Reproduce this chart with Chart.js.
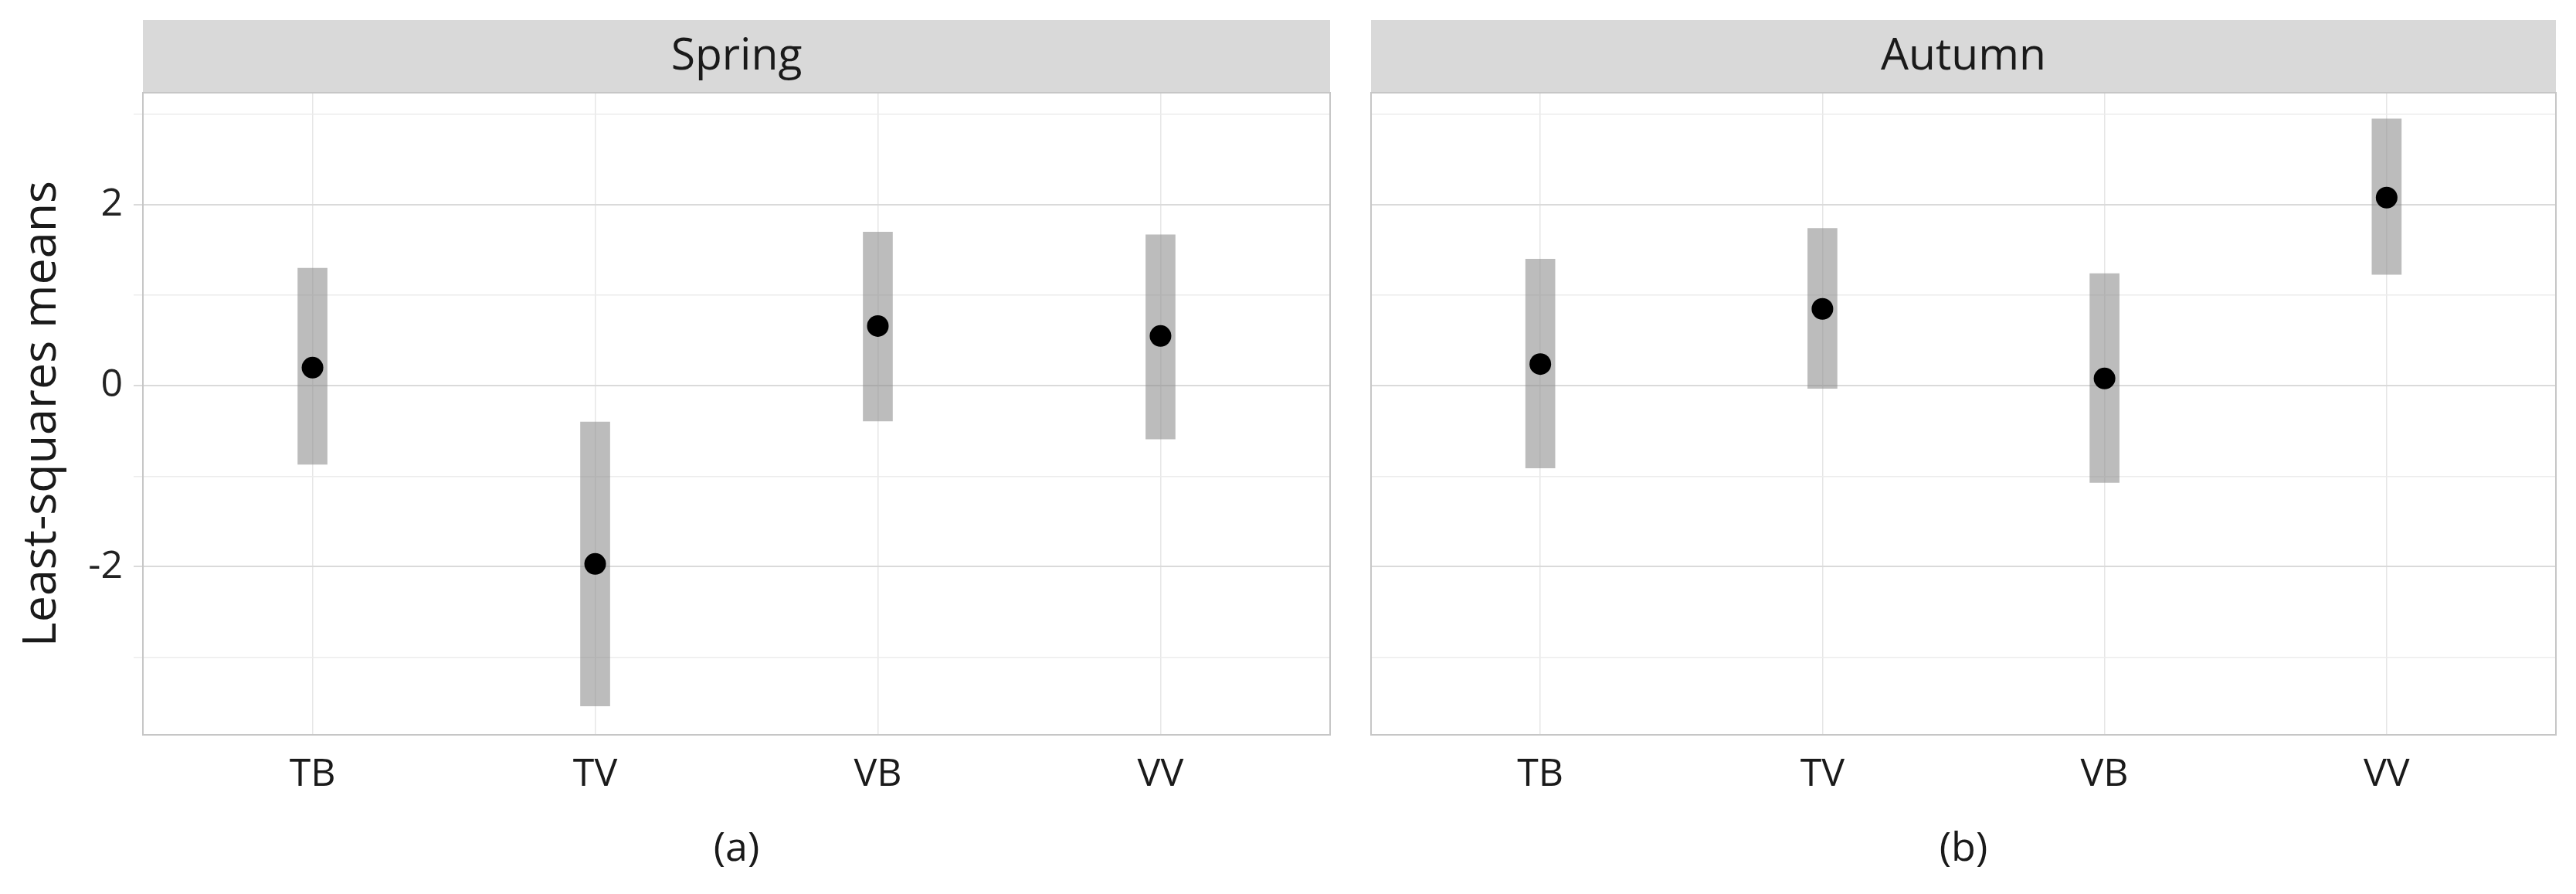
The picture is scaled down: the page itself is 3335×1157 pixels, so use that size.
<!DOCTYPE html>
<html>
<head>
<meta charset="utf-8">
<script src="https://cdn.jsdelivr.net/npm/chart.js@4.4.1/dist/chart.umd.min.js"></script>
<style>
  html, body { margin: 0; padding: 0; background: #fff; }
  body { width: 3335px; height: 1157px; position: relative; overflow: hidden; }
  .panel { position: absolute; top: 0; height: 1157px; }
</style>
</head>
<body>
<div class="panel" style="left:0;width:1748px;"><canvas id="springChart"></canvas></div>
<div class="panel" style="left:1748px;width:1587px;"><canvas id="autumnChart"></canvas></div>
<script>
// === Data ===
const categories = ["TB", "TV", "VB", "VV"];

const springMean = [0.20, -1.97, 0.66, 0.55];
const springLower = [-0.87, -3.54, -0.39, -0.59];
const springUpper = [1.30, -0.40, 1.70, 1.67];

const autumnMean = [0.24, 0.85, 0.08, 2.08];
const autumnLower = [-0.91, -0.03, -1.07, 1.23];
const autumnUpper = [1.40, 1.74, 1.24, 2.95];

const yMin = -3.86;
const yMax = 3.24;

const FONT = "'Open Sans', sans-serif";

// grey strip above the panel + light frame round it
const panelFrame = {
  id: "panelFrame",
  beforeDraw(chart, args, opts) {
    const { ctx, chartArea: a } = chart;
    ctx.save();
    ctx.fillStyle = "#d9d9d9";
    ctx.fillRect(a.left, a.top - opts.strip, a.right - a.left, opts.strip);
    ctx.restore();
  },
  afterDraw(chart) {
    const { ctx, chartArea: a } = chart;
    ctx.save();
    ctx.strokeStyle = "#c6c6c6";
    ctx.lineWidth = 2;
    ctx.strokeRect(a.left, a.top, a.right - a.left, a.bottom - a.top);
    ctx.restore();
  },
};

function makeChart(id, season, caption, mean, lower, upper, isLeft) {
  const yWidth = isLeft ? 185 : 27;

  new Chart(document.getElementById(id), {
    type: "bar",
    data: {
      datasets: [
        {
          type: "scatter",
          data: mean.map((m, i) => ({ x: i + 1, y: m })),
          pointRadius: 14,
          pointBackgroundColor: "#000",
          pointBorderWidth: 0,
          showLine: false,
          order: 0,
        },
        {
          type: "bar",
          data: categories.map((c, i) => ({ x: i + 1, y: [lower[i], upper[i]] })),
          backgroundColor: "rgba(140, 140, 140, 0.58)",
          borderWidth: 0,
          barThickness: 38,
          order: 1,
        },
      ],
    },
    options: {
      responsive: true,
      maintainAspectRatio: false,
      animation: false,
      layout: { padding: { top: 26, right: 26, left: 0, bottom: 0 } },
      plugins: {
        legend: { display: false },
        tooltip: { enabled: false },
        title: {
          display: true,
          text: season,
          fullSize: false,
          color: "#1a1a1a",
          font: { family: FONT, size: 57, weight: "normal", lineHeight: 1.2 },
          padding: { top: 14, bottom: 11.6 },
        },
        panelFrame: { strip: 94 },
      },
      scales: {
        x: {
          type: "linear",
          min: 0.4,
          max: 4.6,
          offset: false,
          afterFit: (s) => { s.height = 206; },
          ticks: {
            stepSize: 1,
            includeBounds: false,
            autoSkip: false,
            maxRotation: 0,
            padding: 22,
            color: "#1a1a1a",
            font: { family: FONT, size: 50 },
            callback: (v) => categories[v - 1] || "",
          },
          grid: { offset: false, color: "#e6e6e6", lineWidth: 1.5, drawTicks: false },
          border: { display: false },
          title: {
            display: true,
            text: caption,
            color: "#1a1a1a",
            font: { family: FONT, size: 52 },
            padding: { top: 0, bottom: 27 },
          },
        },
        y: {
          min: yMin,
          max: yMax,
          afterFit: (s) => { s.width = yWidth; },
          ticks: {
            display: isLeft,
            stepSize: 1,
            includeBounds: false,
            autoSkip: false,
            padding: 14,
            color: "#222",
            font: { family: FONT, size: 50 },
            callback: (v) => (Math.abs(v) % 2 === 0 ? String(v) : ""),
          },
          grid: {
            drawTicks: isLeft,
            tickLength: 12,
            color: (c) => (c.tick && Math.abs(c.tick.value) % 2 === 0 ? "#dadada" : "#ececec"),
            lineWidth: (c) => (c.tick && Math.abs(c.tick.value) % 2 === 0 ? 2 : 1.5),
          },
          border: { display: false },
          title: {
            display: isLeft,
            text: "Least-squares means",
            color: "#1a1a1a",
            font: { family: FONT, size: 61 },
            padding: { top: 18, bottom: 0 },
          },
        },
      },
    },
    plugins: [panelFrame],
  });
}

// === INIT ===
makeChart("springChart", "Spring", "(a)", springMean, springLower, springUpper, true);
makeChart("autumnChart", "Autumn", "(b)", autumnMean, autumnLower, autumnUpper, false);
</script>
</body>
</html>
